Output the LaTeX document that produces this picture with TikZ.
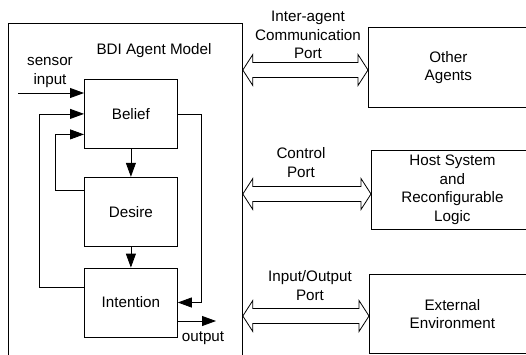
\documentclass[tikz,border=0pt]{standalone}
\usepackage{fontspec}
\setmainfont{Liberation Sans}
\usetikzlibrary{positioning,calc,arrows.meta}

\tikzset{
  stage/.style={draw, minimum width=93pt, minimum height=69pt, inner sep=0pt},
  env/.style={draw, anchor=north west, inner sep=0pt, align=center},
  flow/.style={-{Triangle[length=14pt,width=10pt]}},
  lbl/.style={align=center, inner sep=0pt},
}

% hollow two-headed port arrow: #1 = y, #2 = left node, #3 = right node
\newcommand{\portarrow}[3]{%
  \draw (#2.east|-0,#1) coordinate (pl) -- ++(10,-15.5) -- ++(0,8)
    -- ($(#3.west|-0,#1)+(-10,-7.5)$) -- ++(0,-8) -- (#3.west|-0,#1)
    -- ++(-10,15.5) -- ++(0,-8) -- ($(pl)+(10,7.5)$) -- ++(0,8) -- cycle;}

\begin{document}
\begin{tikzpicture}[x=1pt, y=-1pt, line width=0.8pt,
                    every node/.style={font=\fontsize{15.2}{18.5}\selectfont}]
\useasboundingbox (0,0) rectangle (526,354);
\clip (0,0) rectangle (526,354);

% agent model
\node [draw, anchor=north west, minimum width=234pt, minimum height=360pt] (agent) at (8,23) {};
\node [lbl] (title) at (154,51) {BDI Agent Model};
\node [stage, anchor=north west] (belief) at (84,79) {Belief};
\node [stage, below=28pt of belief] (desire) {Desire};
\node [stage, below=21pt of desire] (intention) {Intention};
%
\coordinate (sensor) at (18,93);
\coordinate (out) at (216,321);
\node [lbl] (sensorlbl) at (50,72.5) {sensor\\input};
\node [lbl] (outlbl) at (203,338) {output};

\draw [flow] (belief) -- (desire);
\draw [flow] (desire) -- (intention);
\draw [flow] (sensor) -- (sensor -| belief.west);
\draw [flow] ($(intention.north west)+(0,20)$) -- ++(-45,0) |- (belief.west);
\draw [flow] ($(desire.north west)+(0,14)$) -- ++(-29,0) |- ($(belief.west)+(0,20.5)$);
\draw [flow] (belief.east) -- ++(24,0) |- (intention.east);
\draw [flow] (intention.east |- out) -- (out);

% environment
\node [env, minimum width=160pt, minimum height=80pt] (other) at (368,27) {Other\\Agents};
\node [env, minimum width=162pt, minimum height=79pt] (host) at (371,150) {Host System\\and\\Reconfigurable\\Logic};
\node [env, minimum width=166pt, minimum height=79pt] (extern) at (369,274) {External\\Environment};

\node [lbl] (commlbl) at (308,35) {Inter-agent\\Communication\\Port};
\node [lbl] (ctrllbl) at (301,162.5) {Control\\Port};
\node [lbl] (iolbl) at (310,285.5) {Input/Output\\Port};

\portarrow{70}{agent}{other}
\portarrow{194}{agent}{host}
\portarrow{316}{agent}{extern}
\end{tikzpicture}
\end{document}
